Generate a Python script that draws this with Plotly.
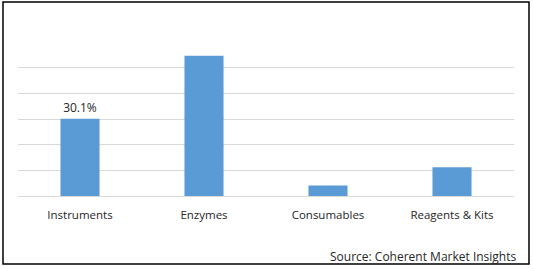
import plotly.graph_objects as go

categories = ["Instruments", "Enzymes", "Consumables", "Reagents & Kits"]
shares = [30.1, 54.6, 4.1, 11.2]
labels = ["30.1%", "", "", ""]
source_text = "Source: Coherent Market Insights"

W, H = 534, 269
L, R, T, B = 18, 20, 42, 73
pw, ph = W - L - R, H - T - B

def px_x(x):
    return (x - L) / pw

def px_y(y):
    return (H - B - y) / ph

fig = go.Figure()
fig.add_trace(go.Bar(
    x=categories, y=shares, text=labels, textposition="outside",
    textfont=dict(family="Open Sans", size=12, color="#262626"),
    marker=dict(color="#5B9BD5", line=dict(width=0)),
    width=0.315, cliponaxis=False, hoverinfo="skip",
))

fig.update_layout(
    width=W, height=H,
    margin=dict(l=L, r=R, t=T, b=B),
    paper_bgcolor="white", plot_bgcolor="white",
    showlegend=False,
    font=dict(family="Open Sans", size=11, color="#262626"),
    xaxis=dict(showgrid=False, showline=False, ticks="", zeroline=False,
               tickfont=dict(family="Open Sans", size=11.5, color="#262626"),
               ticklabelstandoff=10, fixedrange=True),
    yaxis=dict(range=[0, 60], dtick=10, showgrid=True, gridcolor="#D9D9D9",
               gridwidth=1, showticklabels=False, zeroline=True,
               zerolinecolor="#D9D9D9", zerolinewidth=1, showline=False,
               ticks="", fixedrange=True),
    shapes=[dict(type="rect", xref="paper", yref="paper",
                 x0=px_x(3), x1=px_x(529), y0=px_y(264), y1=px_y(2),
                 line=dict(color="black", width=1.5), fillcolor="rgba(0,0,0,0)",
                 layer="above")],
    annotations=[dict(text=source_text, xref="paper", yref="paper",
                      x=px_x(519), y=px_y(256), xanchor="right", yanchor="middle",
                      showarrow=False,
                      font=dict(family="Open Sans", size=12, color="#262626"))],
)

fig.write_html("out.html")
